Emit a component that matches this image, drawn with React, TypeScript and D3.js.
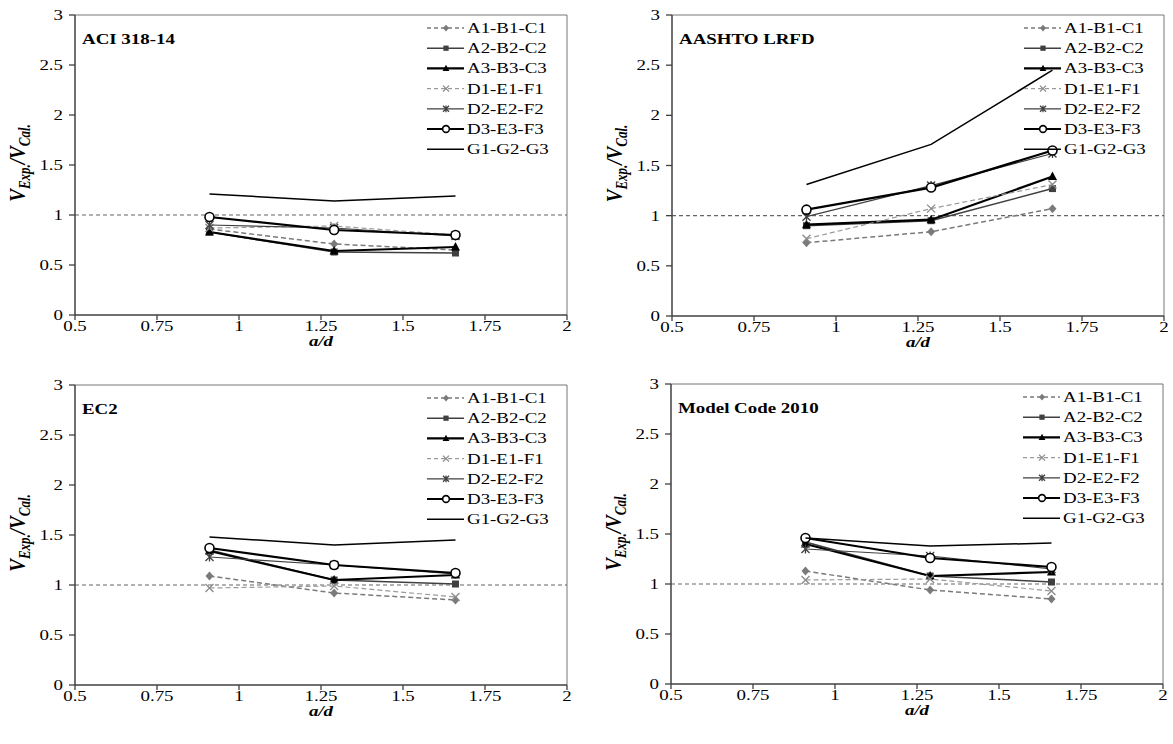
import React from "react";
import * as d3 from "d3";

// ---- data ----
const seriesNames = ["A1-B1-C1", "A2-B2-C2", "A3-B3-C3", "D1-E1-F1", "D2-E2-F2", "D3-E3-F3", "G1-G2-G3"];
const aOverD = [0.91, 1.29, 1.66];
const xTicks = [0.5, 0.75, 1, 1.25, 1.5, 1.75, 2];
const yTicks = [0, 0.5, 1, 1.5, 2, 2.5, 3];

const aciValues = [
  [0.86, 0.71, 0.65],
  [0.83, 0.63, 0.62],
  [0.83, 0.64, 0.68],
  [0.87, 0.89, 0.8],
  [0.9, 0.87, 0.79],
  [0.98, 0.85, 0.8],
  [1.21, 1.14, 1.19],
];
const aashtoValues = [
  [0.73, 0.84, 1.07],
  [0.9, 0.95, 1.27],
  [0.91, 0.96, 1.39],
  [0.77, 1.07, 1.31],
  [0.99, 1.3, 1.62],
  [1.06, 1.28, 1.65],
  [1.31, 1.71, 2.45],
];
const ec2Values = [
  [1.09, 0.92, 0.85],
  [1.35, 1.05, 1.01],
  [1.34, 1.05, 1.1],
  [0.97, 0.99, 0.88],
  [1.28, 1.2, 1.11],
  [1.37, 1.2, 1.12],
  [1.48, 1.4, 1.45],
];
const mcValues = [
  [1.13, 0.94, 0.85],
  [1.42, 1.08, 1.02],
  [1.4, 1.08, 1.12],
  [1.04, 1.05, 0.93],
  [1.35, 1.28, 1.15],
  [1.46, 1.26, 1.17],
  [1.46, 1.38, 1.41],
];
const panelTitles = ["ACI 318-14", "AASHTO LRFD", "EC2", "Model Code 2010"];

// ---- styles ----
type Style = { color: string; width: number; dash?: string; marker: string; mcolor: string };
const styles: Style[] = [
  { color: "#7a7a7a", width: 1.5, dash: "5,3", marker: "diamond", mcolor: "#7a7a7a" },
  { color: "#404040", width: 1.5, marker: "square", mcolor: "#404040" },
  { color: "#000", width: 2.2, marker: "triangle", mcolor: "#000" },
  { color: "#9a9a9a", width: 1.2, dash: "5,3", marker: "x", mcolor: "#8a8a8a" },
  { color: "#404040", width: 1.2, marker: "star", mcolor: "#404040" },
  { color: "#000", width: 2.2, marker: "circle", mcolor: "#000" },
  { color: "#000", width: 1.5, marker: "none", mcolor: "#000" },
];

const SX = 1.22;
const FONT = "'Liberation Serif', 'Times New Roman', serif";

function SText(props: any) {
  const { x, y, anchor = "start", size = 15.5, weight = "normal", italic = false, children } = props;
  return (
    <text
      transform={`translate(${x},${y}) scale(${SX},1)`}
      textAnchor={anchor}
      fontSize={size}
      fontWeight={weight}
      fontStyle={italic ? "italic" : "normal"}
      fontFamily={FONT}
      fill="#000"
    >
      {children}
    </text>
  );
}

function Marker({ type, x, y, color, s = 1 }: any) {
  const k = s;
  switch (type) {
    case "diamond":
      return <path d={`M${x},${y - 4.5 * k}L${x + 4 * k},${y}L${x},${y + 4.5 * k}L${x - 4 * k},${y}Z`} fill={color} />;
    case "square":
      return <rect x={x - 3.5 * k} y={y - 3.5 * k} width={7 * k} height={7 * k} fill={color} />;
    case "triangle":
      return <path d={`M${x},${y - 5 * k}L${x + 4.5 * k},${y + 3.5 * k}L${x - 4.5 * k},${y + 3.5 * k}Z`} fill={color} />;
    case "x":
      return (
        <path
          d={`M${x - 4 * k},${y - 4 * k}L${x + 4 * k},${y + 4 * k}M${x - 4 * k},${y + 4 * k}L${x + 4 * k},${y - 4 * k}`}
          stroke={color}
          strokeWidth={1.3}
        />
      );
    case "star":
      return (
        <path
          d={`M${x - 4 * k},${y - 4 * k}L${x + 4 * k},${y + 4 * k}M${x - 4 * k},${y + 4 * k}L${x + 4 * k},${y - 4 * k}M${x},${y - 4.5 * k}L${x},${y + 4.5 * k}`}
          stroke={color}
          strokeWidth={1.3}
        />
      );
    case "circle":
      return <circle cx={x} cy={y} r={4.5 * k} fill="#fff" stroke={color} strokeWidth={1.6} />;
    default:
      return null;
  }
}

function Panel({ x0, x1, y0, y1, title, values }: any) {
  const xs = d3.scaleLinear().domain([0.5, 2]).range([x0, x1]);
  const ys = d3.scaleLinear().domain([0, 3]).range([y0, y1]);
  const line = d3
    .line<number>()
    .x((_, i) => xs(aOverD[i]))
    .y((d) => ys(d));
  const legX = x0 + 352;
  const legY0 = y1 + 13;
  return (
    <g>
      {/* frame top/right */}
      <path d={`M${x0},${y1}H${x1}V${y0}`} fill="none" stroke="#777" strokeWidth={1} />
      {/* reference line */}
      <line x1={xs(0.5)} x2={xs(2)} y1={ys(1)} y2={ys(1)} stroke="#666" strokeWidth={1.2} strokeDasharray="4,3" />
      {/* axes */}
      <line x1={x0} x2={x1} y1={y0} y2={y0} stroke="#404040" strokeWidth={1.5} />
      <line x1={x0} x2={x0} y1={y0} y2={y1} stroke="#404040" strokeWidth={1.5} />
      {xTicks.map((t) => (
        <g key={"x" + t}>
          <line x1={xs(t)} x2={xs(t)} y1={y0} y2={y0 + 5} stroke="#404040" strokeWidth={1.3} />
          <SText x={xs(t)} y={y0 + 16} anchor="middle">
            {String(t)}
          </SText>
        </g>
      ))}
      {yTicks.map((t) => (
        <g key={"y" + t}>
          <line x1={x0 - 6} x2={x0} y1={ys(t)} y2={ys(t)} stroke="#404040" strokeWidth={1.3} />
          <SText x={x0 - 12} y={ys(t) + 5} anchor="end">
            {String(t)}
          </SText>
        </g>
      ))}
      <SText x={xs(1.25)} y={y0 + 31} anchor="middle" weight="bold" italic>
        a/d
      </SText>
      {/* y label */}
      <text
        transform={`translate(${x0 - 50},${(y0 + y1) / 2 - 2}) scale(${SX},1) rotate(-90)`}
        textAnchor="middle"
        fontFamily={FONT}
        fontWeight="bold"
        fontStyle="italic"
        fill="#000"
      >
        <tspan fontSize={19}>V</tspan>
        <tspan fontSize={13} dy={4}>
          Exp.
        </tspan>
        <tspan fontSize={19} dy={-4}>
          /V
        </tspan>
        <tspan fontSize={13} dy={4}>
          Cal.
        </tspan>
      </text>
      {/* title */}
      <SText x={x0 + 7} y={y1 + 29} weight="bold" size={15.5}>
        {title}
      </SText>
      {/* series */}
      {values.map((vals: number[], si: number) => {
        const st = styles[si];
        return (
          <g key={"s" + si}>
            <path d={line(vals) || ""} fill="none" stroke={st.color} strokeWidth={st.width} strokeDasharray={st.dash} />
            {vals.map((v, i) => (
              <Marker key={i} type={st.marker} x={xs(aOverD[i])} y={ys(v)} color={st.mcolor} />
            ))}
          </g>
        );
      })}
      {/* legend */}
      {seriesNames.map((n, i) => {
        const st = styles[i];
        const ly = legY0 + i * 20.2;
        return (
          <g key={"l" + i}>
            <line x1={legX} x2={legX + 37} y1={ly} y2={ly} stroke={st.color} strokeWidth={st.width} strokeDasharray={st.dash ? "4,3" : undefined} />
            <Marker type={st.marker} x={legX + 19} y={ly} color={st.mcolor} s={0.75} />
            <SText x={legX + 40} y={ly + 5}>
              {n}
            </SText>
          </g>
        );
      })}
    </g>
  );
}

export default function App() {
  return (
    <svg width={1173} height={744} style={{ position: "absolute", left: 0, top: 0, background: "#fff" }}>
      <rect width={1173} height={744} fill="#fff" />
      <Panel x0={75} x1={567} y0={315} y1={15} title={panelTitles[0]} values={aciValues} />
      <Panel x0={672} x1={1164} y0={316} y1={15} title={panelTitles[1]} values={aashtoValues} />
      <Panel x0={75} x1={567} y0={685} y1={385} title={panelTitles[2]} values={ec2Values} />
      <Panel x0={671} x1={1163} y0={684} y1={384} title={panelTitles[3]} values={mcValues} />
    </svg>
  );
}
